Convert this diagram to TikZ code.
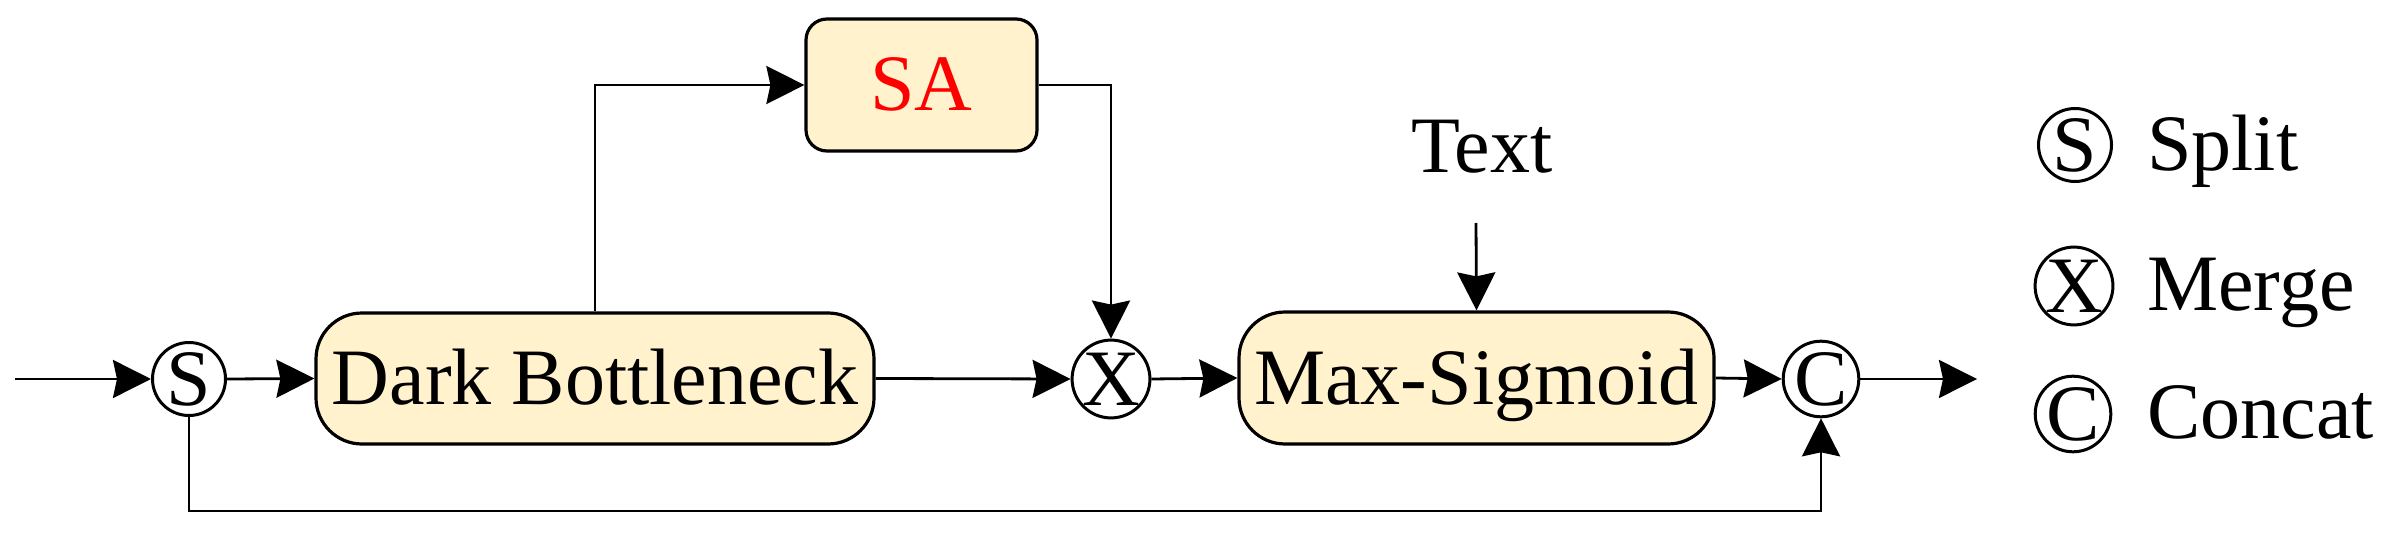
\documentclass[tikz,border=0pt]{standalone}
\usepackage{fontspec}
\setmainfont{Liberation Serif}
\newfontfamily\tnr{Liberation Serif}
\usetikzlibrary{arrows.meta}
\definecolor{boxfill}{HTML}{FFF2CC}
\definecolor{txtred}{HTML}{FF0000}
\begin{document}
\begin{tikzpicture}[x=1pt,y=-1pt,
  arr/.style={-{Stealth[length=38pt,width=38pt,inset=4pt]}, line width=2.8pt},
  bigfont/.style={font=\tnr\fontsize{80}{90}\selectfont},
  blk/.style={draw, line width=3.2pt, fill=boxfill, rounded corners=46pt, inner sep=0pt,
    text height=52pt, text depth=0pt, bigfont},
  op/.style={draw, circle, line width=3pt, minimum size=73pt, inner sep=0pt, bigfont},
  lbl/.style={inner sep=0pt, bigfont}]
\useasboundingbox (0,0) rectangle (2393,540);
% main nodes
\node[op] (S) at (189,379) {S};
\node[blk, minimum width=558pt, minimum height=131pt] (DB) at (595,378.5) {Dark Bottleneck};
\node[blk, rounded corners=21pt, minimum width=231pt, minimum height=132pt, text=txtred] (SA) at (921.5,85) {SA};
\node[op] (X) at (1111,379) {X};
\node[blk, minimum width=475pt, minimum height=132pt] (MS) at (1476.5,378) {Max-Sigmoid};
\node[op] (C) at (1821,379) {C};
\node[lbl, anchor=base] (txt) at (1482,173) {Text};
\coordinate (in) at (15,379);
\coordinate (out) at (1977,379);
\coordinate (tt) at (1476,223);
\coordinate (bot) at (189,511);
% connectors
\draw[arr] (in) -- (S.west);
\draw[arr] (S.east) -- (DB.west);
\draw[arr] (DB.north) |- (SA.west);
\draw[arr] (SA.east) -| (X.north);
\draw[arr] (DB.east) -- (X.west);
\draw[arr] (X.east) -- (MS.west);
\draw[arr] (tt) -- (MS.north);
\draw[arr] (MS.east) -- (C.west);
\draw[arr] (C.east) -- (out);
\draw[arr] (S.south) -- (bot) -| (C.south);
% legend
\node[op] (lS) at (2075,145) {S};
\node[op] (lX) at (2074,286) {X};
\node[op] (lC) at (2073,414) {C};
\node[lbl, anchor=base west] (tS) at (2147,171) {Split};
\node[lbl, anchor=base west] (tX) at (2147,310) {Merge};
\node[lbl, anchor=base west] (tC) at (2147,438) {Concat};
\end{tikzpicture}
\end{document}
